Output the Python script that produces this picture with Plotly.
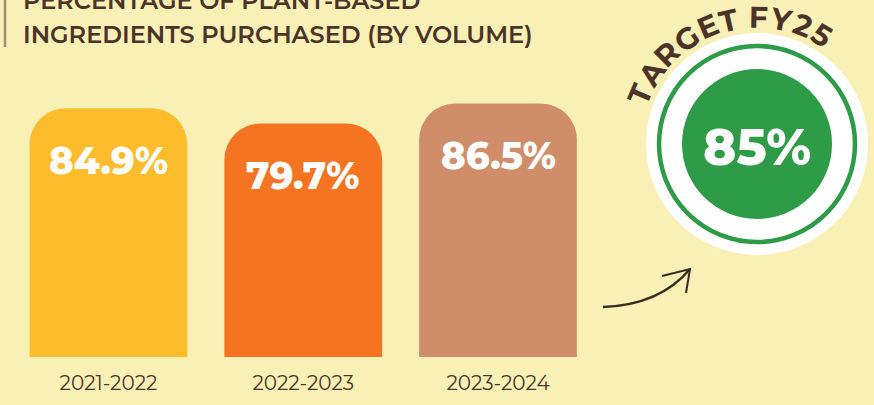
"""Plant-based ingredients purchased, by fiscal year, with FY25 target badge."""

import math
import plotly.graph_objects as go

# Data
periods = ["2021-2022", "2022-2023", "2023-2024"]
pct_plant_based = [84.9, 79.7, 86.5]
bar_colors = ["#FDBC2C", "#F47421", "#CF8D6A"]
target_label = "TARGET FY25"
target_value = 85

W, H = 874, 405
BG = "#F9F0B6"
BROWN = "#4B3328"
GREEN = "#2E9B47"
FONT = "Montserrat, Inter, sans-serif"


def px(x):
    return x / W


def py(y):
    return 1 - y / H


fig = go.Figure(
    go.Bar(
        x=periods,
        y=pct_plant_based,
        marker=dict(color=bar_colors, cornerradius=36, line=dict(width=0)),
        hoverinfo="skip",
    )
)

# value labels inside bars, near the top
for p, v in zip(periods, pct_plant_based):
    fig.add_annotation(
        x=p, y=v, xref="x", yref="y", yshift=-52,
        text=f"{v}%", showarrow=False,
        font=dict(family=FONT, size=37, color="white", weight=800),
    )

# title block
fig.add_shape(type="line", xref="paper", yref="paper",
              x0=px(5), x1=px(5), y0=py(0), y1=py(47),
              line=dict(color="#A08E7C", width=2.5))
fig.add_annotation(x=px(21), y=py(0), xref="paper", yref="paper",
                   xanchor="left", yanchor="middle",
                   text="PERCENTAGE OF PLANT-BASED", showarrow=False,
                   font=dict(family=FONT, size=24, color=BROWN, weight=600))
fig.add_annotation(x=px(21), y=py(35), xref="paper", yref="paper",
                   xanchor="left", yanchor="middle",
                   text="INGREDIENTS PURCHASED (BY VOLUME)", showarrow=False,
                   font=dict(family=FONT, size=24, color=BROWN, weight=600))

# target badge
cx, cy = 757, 144
fig.add_shape(type="circle", xref="paper", yref="paper", layer="below",
              x0=px(cx - 111), x1=px(cx + 111), y0=py(cy + 111), y1=py(cy - 111),
              fillcolor="white", line=dict(width=0))
fig.add_shape(type="circle", xref="paper", yref="paper", layer="below",
              x0=px(cx - 98), x1=px(cx + 98), y0=py(cy + 98), y1=py(cy - 98),
              fillcolor="white", line=dict(color=GREEN, width=4.5))
fig.add_shape(type="circle", xref="paper", yref="paper", layer="below",
              x0=px(cx - 75), x1=px(cx + 75), y0=py(cy + 75), y1=py(cy - 75),
              fillcolor=GREEN, line=dict(width=0))
fig.add_annotation(x=px(cx), y=py(cy + 3), xref="paper", yref="paper",
                   xanchor="center", yanchor="middle",
                   text=f"{target_value}%", showarrow=False,
                   font=dict(family=FONT, size=50, color="white", weight=800))

# curved label over the badge
widths = {"T": .62, "A": .72, "R": .66, "G": .72, "E": .6, " ": .24,
          "F": .58, "Y": .66, "2": .6, "5": .6}
w = [widths[c] for c in target_label]
cum = [0]
for a, b in zip(w[:-1], w[1:]):
    cum.append(cum[-1] + (a + b) / 2)
a0, a1, rr = -67, 31, 127
for ch, c in zip(target_label, cum):
    if ch == " ":
        continue
    th = a0 + (a1 - a0) * c / cum[-1]
    t = math.radians(th)
    fig.add_annotation(x=px(cx + rr * math.sin(t)), y=py(cy - rr * math.cos(t)),
                       xref="paper", yref="paper", text=ch, showarrow=False,
                       xanchor="center", yanchor="middle", textangle=th,
                       font=dict(family=FONT, size=30, color=BROWN, weight=700))

# hand-drawn arrow towards the badge
fig.add_shape(type="path", xref="paper", yref="paper",
              path=f"M {px(603)},{py(307)} Q {px(660)},{py(305)} {px(690)},{py(269)}",
              line=dict(color="#3B2A22", width=2.5))
fig.add_shape(type="path", xref="paper", yref="paper",
              path=f"M {px(662)},{py(276)} L {px(690)},{py(269)} L {px(686)},{py(293)}",
              line=dict(color="#3B2A22", width=2))

fig.update_layout(
    width=W, height=H,
    margin=dict(l=0, r=0, t=0, b=0),
    paper_bgcolor=BG, plot_bgcolor="rgba(0,0,0,0)",
    bargap=0.19,
    showlegend=False,
    xaxis=dict(domain=[px(11.1), px(595.4)], range=[-0.5, 2.5],
               showgrid=False, zeroline=False, showline=False, ticks="",
               automargin=False, ticklabelstandoff=12,
               tickfont=dict(family=FONT, size=20, color=BROWN)),
    yaxis=dict(domain=[py(357), py(64)], range=[0, 100], visible=False,
               automargin=False),
)

fig.write_html("out.html", config={"displayModeBar": False},
               post_script="document.body.style.margin='0';")
